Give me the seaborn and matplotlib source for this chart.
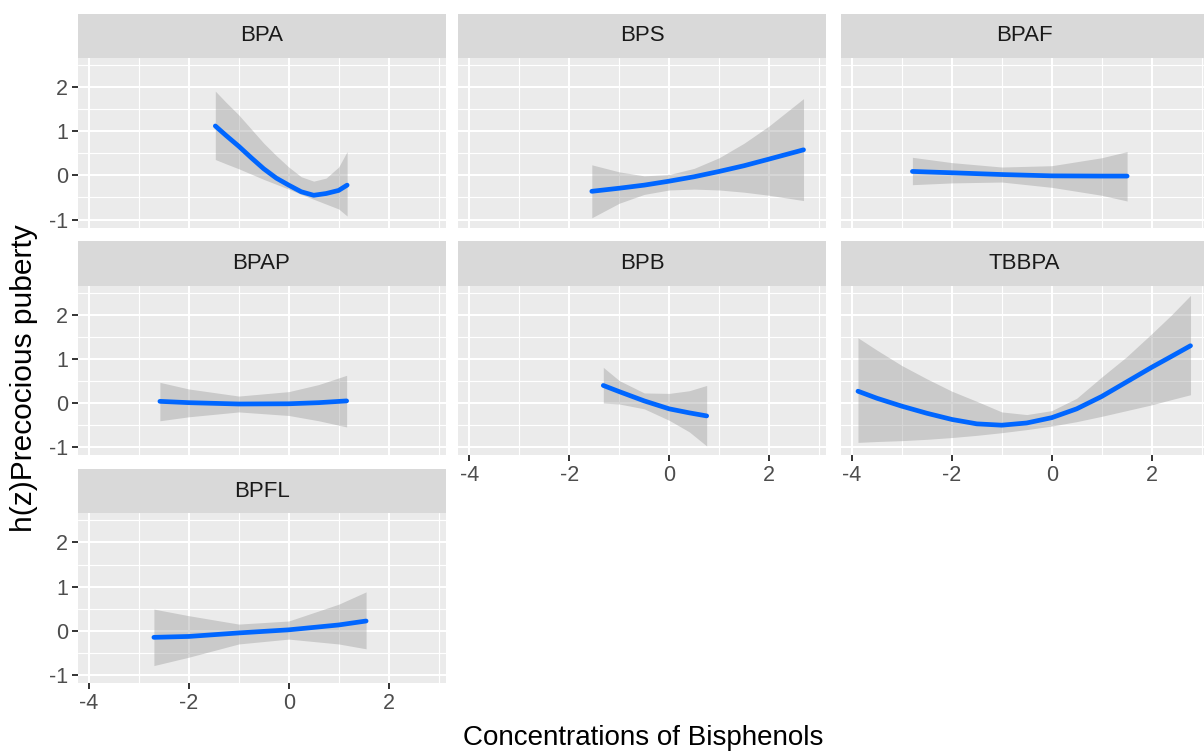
import numpy as np
import pandas as pd
import matplotlib
matplotlib.use("Agg")
import matplotlib.pyplot as plt
import seaborn as sns

# exposure-response curves: x, estimate, lower / upper band
bpa_x = [-1.47, -1.25, -1.0, -0.75, -0.5, -0.25, 0.0, 0.25, 0.5, 0.75, 1.0, 1.17]
bpa_fit = [1.12, 0.90, 0.66, 0.40, 0.15, -0.06, -0.22, -0.37, -0.45, -0.41, -0.34, -0.22]
bpa_lo = [0.36, 0.26, 0.15, 0.03, -0.09, -0.20, -0.31, -0.43, -0.54, -0.65, -0.76, -0.92]
bpa_hi = [1.91, 1.65, 1.37, 1.05, 0.73, 0.45, 0.19, -0.03, -0.13, -0.06, 0.19, 0.54]

bps_x = [-1.55, -1.0, -0.5, 0.0, 0.5, 1.0, 1.5, 2.0, 2.69]
bps_fit = [-0.36, -0.29, -0.22, -0.13, -0.03, 0.09, 0.22, 0.37, 0.58]
bps_lo = [-0.96, -0.63, -0.43, -0.33, -0.31, -0.33, -0.38, -0.45, -0.57]
bps_hi = [0.24, 0.08, -0.01, 0.02, 0.16, 0.40, 0.73, 1.12, 1.74]

bpaf_x = [-2.79, -2.0, -1.0, 0.0, 1.0, 1.51]
bpaf_fit = [0.09, 0.06, 0.02, -0.01, -0.015, -0.015]
bpaf_lo = [-0.21, -0.17, -0.15, -0.27, -0.45, -0.58]
bpaf_hi = [0.41, 0.29, 0.19, 0.22, 0.40, 0.54]

bpap_x = [-2.58, -2.0, -1.0, 0.0, 0.6, 1.16]
bpap_fit = [0.04, 0.01, -0.02, -0.015, 0.01, 0.05]
bpap_lo = [-0.40, -0.31, -0.20, -0.28, -0.40, -0.54]
bpap_hi = [0.47, 0.32, 0.16, 0.26, 0.42, 0.63]

bpb_x = [-1.32, -1.0, -0.5, 0.0, 0.4, 0.75]
bpb_fit = [0.40, 0.26, 0.05, -0.13, -0.22, -0.29]
bpb_lo = [0.0, -0.02, -0.13, -0.39, -0.65, -0.97]
bpb_hi = [0.81, 0.51, 0.23, 0.22, 0.28, 0.40]

tbbpa_x = [-3.88, -3.5, -3.0, -2.5, -2.0, -1.5, -1.0, -0.5, 0.0, 0.5, 1.0, 1.5, 2.0, 2.4, 2.78]
tbbpa_fit = [0.27, 0.11, -0.07, -0.23, -0.37, -0.47, -0.50, -0.45, -0.33, -0.13, 0.15, 0.48, 0.81, 1.06, 1.30]
tbbpa_lo = [-0.89, -0.87, -0.85, -0.82, -0.78, -0.73, -0.67, -0.60, -0.52, -0.42, -0.30, -0.17, -0.04, 0.08, 0.19]
tbbpa_hi = [1.48, 1.20, 0.85, 0.55, 0.27, 0.04, -0.20, -0.26, -0.17, 0.11, 0.59, 1.05, 1.57, 2.00, 2.44]

bpfl_x = [-2.70, -2.0, -1.0, 0.0, 1.0, 1.55]
bpfl_fit = [-0.15, -0.13, -0.05, 0.02, 0.13, 0.22]
bpfl_lo = [-0.79, -0.60, -0.30, -0.19, -0.30, -0.41]
bpfl_hi = [0.49, 0.34, 0.15, 0.22, 0.60, 0.88]

panels = ["BPA", "BPS", "BPAF", "BPAP", "BPB", "TBBPA", "BPFL"]
curves = {
    "BPA": (bpa_x, bpa_fit, bpa_lo, bpa_hi),
    "BPS": (bps_x, bps_fit, bps_lo, bps_hi),
    "BPAF": (bpaf_x, bpaf_fit, bpaf_lo, bpaf_hi),
    "BPAP": (bpap_x, bpap_fit, bpap_lo, bpap_hi),
    "BPB": (bpb_x, bpb_fit, bpb_lo, bpb_hi),
    "TBBPA": (tbbpa_x, tbbpa_fit, tbbpa_lo, tbbpa_hi),
    "BPFL": (bpfl_x, bpfl_fit, bpfl_lo, bpfl_hi),
}

rows = []
for name in panels:
    x, fit, lo, hi = curves[name]
    for a, b, c, d in zip(x, fit, lo, hi):
        rows.append((name, a, b, c, d))
df = pd.DataFrame(rows, columns=["compound", "conc", "est", "lower", "upper"])

sns.set_theme(style="white")
plt.rcParams["font.family"] = ["Liberation Sans", "DejaVu Sans"]
plt.rcParams["axes.unicode_minus"] = False

W, H = 1204, 751
fig = plt.figure(figsize=(W / 100, H / 100), dpi=100)


def box(left, top, w, h):
    return [left / W, 1 - (top + h) / H, w / W, h / H]


col_left = [77.5, 458, 840.5]
panel_top = [58, 285.7, 513.3]
pw, ph, sh = 368, 169.5, 44.5

for i, name in enumerate(panels):
    r, c = divmod(i, 3)
    ax = fig.add_axes(box(col_left[c], panel_top[r], pw, ph))
    ax.set_facecolor("#EBEBEB")
    sub = df[df["compound"] == name]
    ax.fill_between(sub["conc"], sub["lower"], sub["upper"], color="#999999", alpha=0.4, lw=0, zorder=2)
    sns.lineplot(data=sub, x="conc", y="est", ax=ax, color="#0066FF", linewidth=3.4, zorder=3)

    ax.set_xlim(-4.23, 3.14)
    ax.set_ylim(-1.18, 2.66)
    ax.set_xticks([-4, -2, 0, 2])
    ax.set_xticks([-3, -1, 1, 3], minor=True)
    ax.set_yticks([-1, 0, 1, 2])
    ax.set_yticks([-0.5, 0.5, 1.5, 2.5], minor=True)
    ax.grid(which="major", color="white", lw=1.5)
    ax.grid(which="minor", color="white", lw=0.8)
    ax.set_axisbelow(True)
    for s in ax.spines.values():
        s.set_visible(False)
    ax.set_xlabel("")
    ax.set_ylabel("")
    ax.tick_params(which="minor", length=0)
    ax.tick_params(which="major", length=4, width=1.4, color="#333333",
                   labelcolor="#4D4D4D", labelsize=15.5, pad=3)

    show_x = r == 2 or (r == 1 and c > 0)
    ax.tick_params(axis="x", bottom=show_x, labelbottom=show_x)
    ax.tick_params(axis="y", left=(c == 0), labelleft=(c == 0))

    strip = fig.add_axes(box(col_left[c], panel_top[r] - sh, pw, sh))
    strip.set_facecolor("#D9D9D9")
    strip.set_xticks([])
    strip.set_yticks([])
    for s in strip.spines.values():
        s.set_visible(False)
    strip.text(0.5, 0.5, name, ha="center", va="center", color="#1A1A1A", fontsize=16,
               transform=strip.transAxes)

fig.text(643 / W, 1 - 745 / H, "Concentrations of Bisphenols", ha="center", va="baseline",
         fontsize=20, color="black")
fig.text(24 / W, 1 - 378 / H, "h(z)Precocious puberty", ha="center", va="center",
         rotation=90, fontsize=21.5, color="black")

fig.savefig("out.png", dpi=100)
